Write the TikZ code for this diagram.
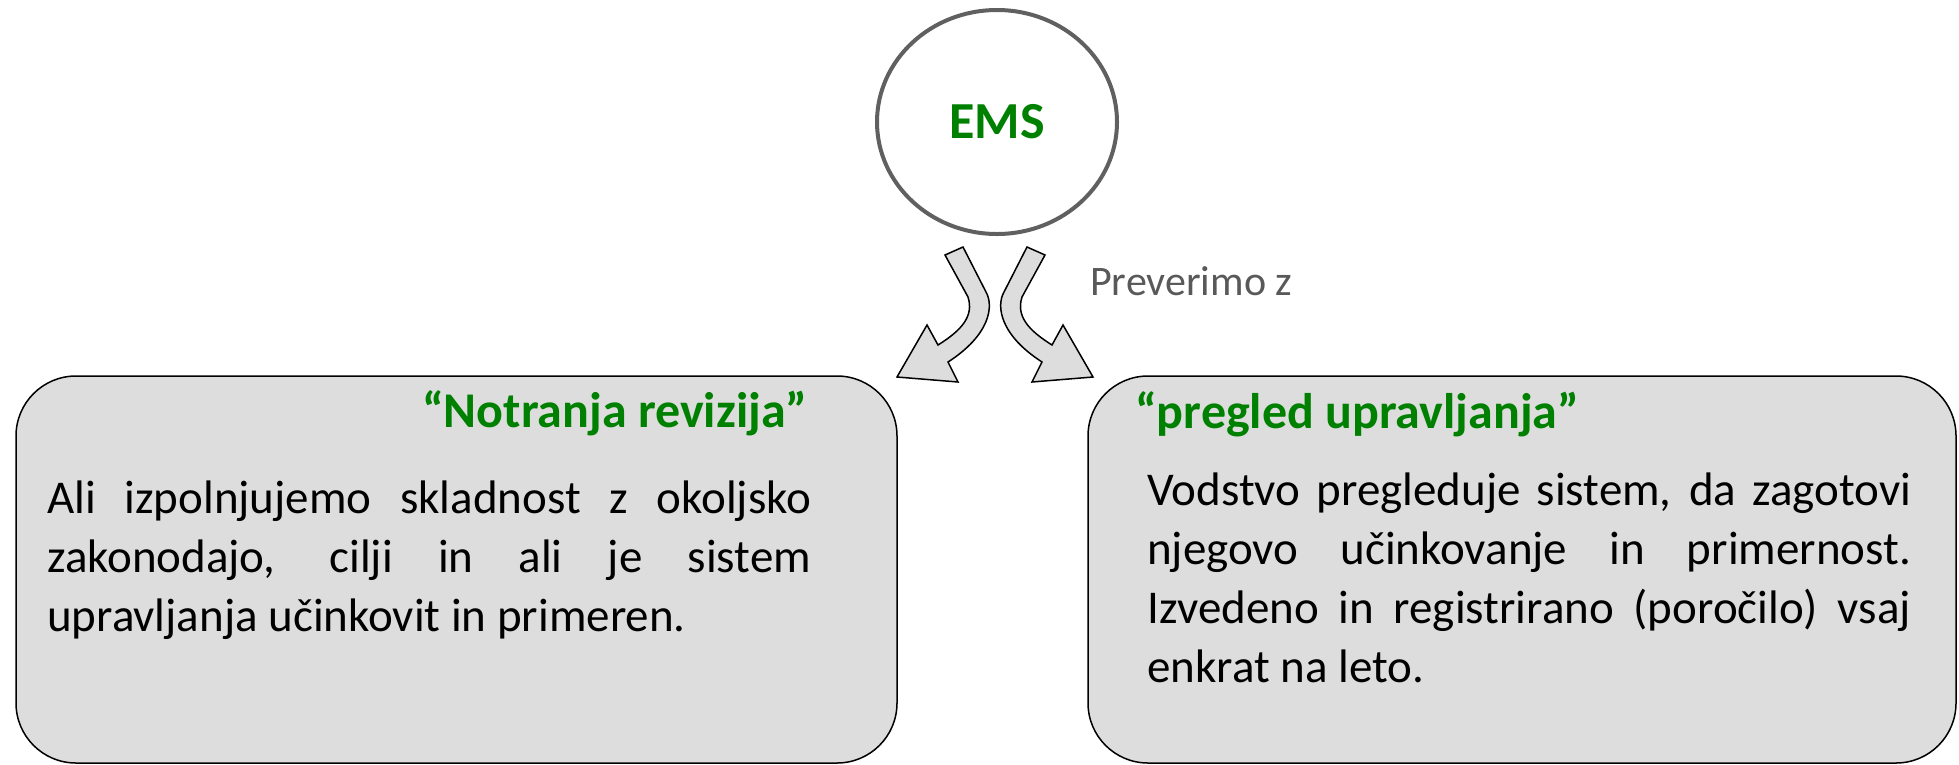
\documentclass[tikz,border=0pt]{standalone}
\usepackage{fontspec}
\setmainfont{Carlito}
\usetikzlibrary{positioning, shapes.geometric}
\definecolor{emsgreen}{RGB}{0,128,0}
\definecolor{boxgray}{RGB}{221,221,221}
\definecolor{ringgray}{RGB}{96,96,96}
\definecolor{notegray}{RGB}{89,89,89}
\tikzset{
  panel/.style={draw, line width=1.5pt, fill=boxgray, rounded corners=60pt, minimum width=881pt, minimum height=387pt, inner sep=0pt},
  ring/.style={draw=ringgray, line width=4pt, ellipse, minimum width=240pt, minimum height=224pt, inner sep=0pt},
  heading/.style={font=\fontsize{50}{60}\selectfont\bfseries, text=emsgreen, inner sep=0pt, anchor=base west},
  bodytext/.style={font=\fontsize{47}{59}\selectfont, text width=764pt, align=justify, inner sep=0pt, anchor=base west},
  arrowshape/.style={draw, line width=1.5pt, fill=boxgray, line join=miter},
}
\newcommand{\bentarrow}{%
  \draw[arrowshape] (945,255) -- (963,247) -- (986,292)
    .. controls (994,306) and (990,335) .. (948,362) -- (958,382) -- (897,377)
    -- (927,325) -- (938,345) .. controls (962,330) and (974,316) .. (968,297) -- cycle;}

\begin{document}
\begin{tikzpicture}[x=1pt, y=-1pt]
  \useasboundingbox (0,0) rectangle (1959,764);

  % top circle
  \node[ring, font=\fontsize{52}{60}\selectfont\bfseries, text=emsgreen] (ems) at (997,122) {EMS};

  % the two panels
  \node[panel] (revbox) at (456.5,569.5) {};
  \node[panel, minimum width=868pt] (pregbox) at (1522,569.5) {};

  % bent arrows
  \bentarrow
  \begin{scope}[shift={(1990,0)}, xscale=-1]
    \bentarrow
  \end{scope}
  \node[font=\fontsize{42}{50}\selectfont, text=notegray, anchor=base west, inner sep=0pt] (note) at (1090,295) {Preverimo z};

  % left panel text
  \node[heading] (revtitle) at (422,427) {“Notranja revizija”};
  \node[bodytext] (revtext) at (47,513) {Ali izpolnjujemo skladnost z okoljsko\linebreak
    zakonodajo, cilji in ali je sistem\linebreak
    upravljanja učinkovit in primeren.};

  % right panel text
  \node[heading] (pregtitle) at (1135,428) {“pregled upravljanja”};
  \node[bodytext] (pregtext) at (1147,505) {Vodstvo pregleduje sistem, da zagotovi\linebreak
    njegovo učinkovanje in primernost.\linebreak
    Izvedeno in registrirano (poročilo) vsaj\linebreak
    enkrat na leto.};
\end{tikzpicture}
\end{document}
